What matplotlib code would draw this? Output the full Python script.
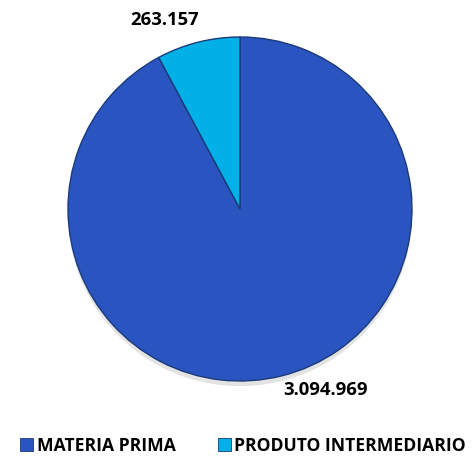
import matplotlib.pyplot as plt
from matplotlib.patches import Patch

categorias = ['MATERIA PRIMA', 'PRODUTO INTERMEDIARIO']
valores = [3094969, 263157]
rotulos = ['3.094.969', '263.157']
cores = ['#2a55c0', '#00b0e6']

plt.rcParams['font.family'] = ['Open Sans', 'DejaVu Sans']

fig = plt.figure(figsize=(4.72, 4.57), dpi=100)
ax = fig.add_axes([68 / 472, 76 / 457, 344 / 472, 344 / 457])

# sombra suave embaixo
ax.pie([1], radius=1.0, center=(0.0, -0.03), colors=['#c8c8c8'],
       wedgeprops=dict(linewidth=0, alpha=0.5))
ax.pie(valores, colors=cores, startangle=90, counterclock=False,
       wedgeprops=dict(edgecolor='#1b3a78', linewidth=1.0))
ax.set_xlim(-1, 1)
ax.set_ylim(-1, 1)
ax.set_aspect('equal')

# rótulos de dados
fig.text(165 / 472, 1 - 20 / 457, rotulos[1], ha='center', va='center',
         fontsize=13.3, fontweight='bold')
fig.text(326 / 472, 1 - 390 / 457, rotulos[0], ha='center', va='center',
         fontsize=13.3, fontweight='bold')

handles = [Patch(facecolor=c, edgecolor='#1b3a78', linewidth=0.6) for c in cores]
fig.legend(handles, categorias, loc='center', bbox_to_anchor=(0.515, 1 - 446 / 457),
           ncol=2, frameon=False, handlelength=0.75, handleheight=0.75,
           handletextpad=0.2, columnspacing=2.4, borderpad=0,
           prop=dict(size=12.6, weight='bold'))

fig.savefig('out.png', dpi=100)
